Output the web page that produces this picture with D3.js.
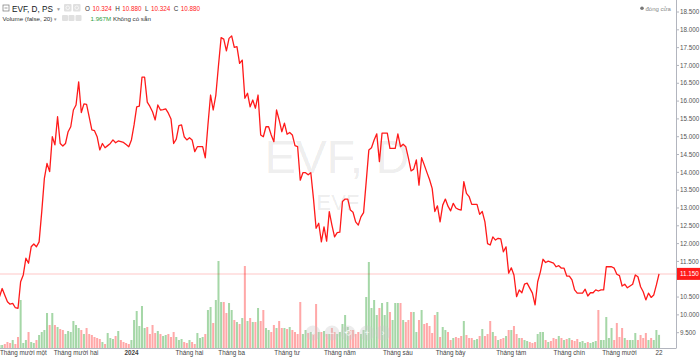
<!DOCTYPE html>
<html><head><meta charset="utf-8">
<script src="https://cdn.jsdelivr.net/npm/d3@7/dist/d3.min.js"></script>
<style>
html,body{margin:0;padding:0;background:#fff;}
svg{display:block;font-family:"Liberation Sans",Arial,sans-serif;}
</style></head><body>
<svg id="chart" width="700" height="358"></svg>
<script>
// ---- data (daily closes, EVF, thousands VND) ----
const closes = [
10.51,10.74,10.55,10.37,10.30,10.32,10.20,10.18,10.93,11.12,
11.59,11.45,11.91,11.99,11.91,12.05,12.89,13.83,14.25,14.02,
15.00,14.77,15.56,14.81,14.74,14.81,15.14,15.28,15.75,15.89,
16.54,15.68,15.92,15.91,15.55,15.19,15.17,15.00,14.63,14.81,
14.69,14.75,14.81,14.91,14.83,14.88,14.86,14.84,14.78,14.72,
14.91,15.33,15.84,15.86,16.67,16.67,15.97,15.85,15.70,15.47,
15.89,15.75,15.76,15.78,15.66,15.50,14.81,14.93,15.31,15.33,
15.00,14.91,14.97,14.91,14.58,14.72,14.72,14.72,14.41,15.33,
16.17,15.75,16.17,17.00,17.78,17.74,17.41,17.76,17.83,17.51,
17.53,17.06,17.15,16.08,16.22,15.84,16.03,15.80,16.17,15.05,
15.00,15.28,15.28,15.05,14.86,15.75,15.47,15.14,15.38,15.07,
15.12,15.05,14.75,14.72,13.78,13.99,13.99,13.93,13.99,13.27,
12.43,12.57,12.05,12.47,12.07,12.90,12.52,12.19,12.31,12.32,
13.18,13.25,13.25,12.94,12.88,12.61,12.52,12.75,12.87,13.74,
14.63,14.69,14.91,15.08,14.30,15.10,15.10,15.10,14.67,14.67,
14.67,15.08,14.72,14.79,14.72,14.40,14.04,14.09,14.35,13.64,
14.41,14.21,14.00,13.80,13.55,12.90,13.06,12.61,13.08,13.25,
13.05,12.92,13.13,13.00,12.96,12.94,13.74,13.41,13.32,13.10,
13.10,13.10,12.82,12.90,12.61,12.00,11.96,12.19,12.10,12.15,
12.13,11.77,11.91,11.17,11.32,11.12,10.51,10.70,10.62,10.86,
10.89,10.75,10.61,10.28,10.93,11.20,11.56,11.47,11.51,11.48,
11.45,11.35,11.38,11.31,11.31,11.09,11.09,10.98,10.70,10.61,
10.61,10.61,10.72,10.53,10.62,10.62,10.70,10.67,10.70,10.70,
11.35,11.35,11.35,11.31,11.14,11.10,10.81,10.86,10.76,10.81,
10.86,11.12,11.07,10.79,10.65,10.42,10.61,10.49,10.56,10.84,
11.15];

// daily volume, millions of shares
const volumes = [
0.45,0.45,0.6,0.9,0.75,1.2,0.6,
1.65,7.2,0.75,1.2,2.4,0.9,0.75,1.2,1.95,2.4,2.7,
5.25,3.45,5.25,3.45,3.15,2.85,2.7,2.1,2.55,2.4,
4.05,3.45,3.0,2.7,2.1,3.0,2.1,1.95,1.65,1.5,
1.35,0.9,0.6,2.25,1.5,1.35,1.8,2.55,1.2,0.9,
0.75,0.6,1.2,4.2,5.55,3.3,6.3,3.0,3.15,2.1,
3.45,2.25,2.55,2.1,1.8,1.95,2.1,1.65,2.4,1.65,
1.2,1.35,0.9,0.75,1.2,0.9,0.6,2.25,1.5,1.65,
2.1,5.7,6.15,3.75,7.2,13.05,6.9,6.9,5.25,6.75,
5.7,4.2,3.9,3.6,4.5,12.3,4.05,4.5,3.9,3.9,
6.0,4.05,5.7,3.0,2.7,2.4,3.45,3.0,4.05,3.0,
3.0,2.85,3.15,2.7,2.4,2.1,6.9,2.1,2.7,2.25,
2.4,2.1,6.6,2.4,2.4,2.55,2.1,2.1,3.0,2.4,
2.1,2.4,3.6,4.95,3.15,2.7,2.7,2.1,2.4,2.1,
2.7,7.65,12.9,6.0,7.2,4.95,6.0,6.75,4.95,6.9,
5.4,4.2,6.75,6.75,6.75,4.2,3.9,4.2,5.4,5.4,
2.4,4.2,5.7,3.6,3.75,3.3,2.25,4.95,5.4,1.65,
3.15,2.7,2.4,1.2,1.5,1.65,1.5,1.8,4.05,1.95,
1.5,1.5,1.2,1.35,1.8,2.85,1.8,2.1,4.05,2.4,
1.8,1.2,1.35,1.5,1.8,2.7,2.7,3.3,2.1,1.5,
1.5,1.2,1.05,0.9,0.75,0.9,2.1,2.4,2.4,1.2,
0.9,1.05,1.5,1.35,1.8,1.5,1.2,1.35,1.5,1.2,
1.05,1.35,0.9,1.05,0.75,0.9,0.75,0.9,1.05,5.7,
1.2,1.2,4.65,1.5,3.0,1.2,3.75,1.65,3.0,1.5,
1.2,1.2,1.2,2.25,1.2,1.95,1.5,2.25,1.2,1.5,
1.2,2.7,1.967];

const tickLabels = ["Tháng mười một","Tháng mười hai","2024","Tháng hai","Tháng ba","Tháng tư","Tháng năm","Tháng sáu","Tháng bảy","Tháng tám","Tháng chín","Tháng mười","22"];
const tickIndex  = [7,29,50,72,88,109,129,151,171,194,216,235,250];
const boldTicks  = ["2024"];
const priceTicks = [9.5,10,10.5,11,11.5,12,12.5,13,13.5,14,14.5,15,15.5,16,16.5,17,17.5,18,18.5];
const lastPrice  = 11.15;
const legendOHLC = [["O","10.324"],["H","10.880"],["L","10.324"],["C","10.880"]];
const legendTitle = "EVF, D, PS";
const volTitle = "Volume (false, 20)";
const volValue = "1.967M";
const volNA = "Không có sẵn";
const watermark = "EVF, D";
const watermarkSub = "EVF";
const closeLegend = "đóng cửa";

// ---- layout ----
const plotW = 676, plotH = 348;
const svg = d3.select("#chart");
const fmt = d3.format(".3f");

const x = d3.scaleLinear().domain([0.18, 256.43]).range([0, plotW]);
const y = d3.scaleLinear().domain([9.07, 18.837]).range([plotH, 0]);
const v = d3.scaleLinear().domain([0, d3.max(volumes)]).range([plotH, plotH * 0.75]);

svg.append("defs").append("clipPath").attr("id","clip")
  .append("rect").attr("x",0).attr("y",0).attr("width",plotW).attr("height",plotH);

// watermark
svg.append("text").attr("x",337).attr("y",173).attr("text-anchor","middle")
  .attr("font-size",46.5).attr("fill","#000").attr("fill-opacity",0.085).text(watermark);
svg.append("text").attr("x",338).attr("y",210).attr("text-anchor","middle")
  .attr("font-size",22).attr("fill","#000").attr("fill-opacity",0.085).text(watermarkSub);

const plot = svg.append("g").attr("clip-path","url(#clip)");

// volume bars
plot.append("g").selectAll("rect").data(volumes).join("rect")
  .attr("x",(d,i)=>x(i)-1)
  .attr("width",2)
  .attr("y",d=>v(d))
  .attr("height",d=>plotH - v(d))
  .attr("fill",(d,i)=> (i===0 || closes[i] >= closes[i-1]) ? "rgba(76,175,80,0.5)" : "rgba(255,82,82,0.5)");

// last price line
plot.append("line").attr("x1",0).attr("x2",plotW)
  .attr("y1",y(lastPrice)).attr("y2",y(lastPrice))
  .attr("stroke","#ff0000").attr("stroke-opacity",0.15).attr("stroke-width",1.5);

// close line
plot.append("path").datum(closes)
  .attr("d", d3.line().x((d,i)=>x(i)).y(d=>y(d)))
  .attr("fill","none").attr("stroke","#ff1a1a").attr("stroke-width",1.3)
  .attr("stroke-linejoin","round");

// navigation buttons (faint)
const navSyms = ["‹","−","⟲","+","›"];
const navX = [313,332,348,367,383];
const nav = svg.append("g");
navSyms.forEach((s,k)=>{
  nav.append("circle").attr("cx",navX[k]).attr("cy",333).attr("r",7.5)
    .attr("fill","#c8c8c8").attr("fill-opacity",0.35);
  nav.append("text").attr("x",navX[k]).attr("y",336).attr("text-anchor","middle")
    .attr("font-size",9).attr("fill","#fff").attr("fill-opacity",0.9).text(s);
});

// right axis
const axisColor = "#b2b5be";
svg.append("line").attr("x1",plotW+0.5).attr("x2",plotW+0.5).attr("y1",0).attr("y2",plotH)
  .attr("stroke",axisColor).attr("stroke-width",1);
const yLast = y(lastPrice);
const yt = svg.append("g");
priceTicks.forEach(t=>{
  const yy = y(t);
  yt.append("line").attr("x1",plotW).attr("x2",plotW+3).attr("y1",yy).attr("y2",yy)
    .attr("stroke",axisColor);
  if (Math.abs(yy - yLast) > 9) {
    yt.append("text").attr("x",plotW+4).attr("y",yy+2.2).attr("font-size",6.3)
      .attr("fill","#555").text(fmt(t));
  }
});
// last price label
svg.append("rect").attr("x",plotW+1).attr("y",yLast-6).attr("width",700-plotW-1).attr("height",12)
  .attr("fill","#ff1a1a");
svg.append("text").attr("x",plotW+4).attr("y",yLast+2.3).attr("font-size",6.3)
  .attr("fill","#fff").text(fmt(lastPrice));

// bottom axis
svg.append("line").attr("x1",0).attr("x2",plotW+0.5).attr("y1",plotH+0.5).attr("y2",plotH+0.5)
  .attr("stroke",axisColor);
const xt = svg.append("g");
tickLabels.forEach((lab,k)=>{
  const xx = x(tickIndex[k]);
  const t = xt.append("text").attr("x",xx).attr("y",354.5).attr("text-anchor","middle")
    .attr("font-size",6.3).attr("fill","#444")
    .attr("font-weight", boldTicks.includes(lab) ? "bold" : "normal").text(lab);
  const w = t.node().getComputedTextLength();
  if (xx - w/2 < 0) t.attr("text-anchor","start").attr("x",0);
});

// legend line 1
const lg = svg.append("g");
lg.append("rect").attr("x",3).attr("y",5).attr("width",6).attr("height",6)
  .attr("fill","none").attr("stroke","#777").attr("stroke-width",0.7);
lg.append("line").attr("x1",4.5).attr("x2",7.5).attr("y1",8).attr("y2",8).attr("stroke","#777").attr("stroke-width",0.7);
lg.append("text").attr("x",12).attr("y",11.5).attr("font-size",8.2).attr("fill","#131722").text(legendTitle);
lg.append("text").attr("x",56).attr("y",10.5).attr("font-size",5).attr("fill","#999").text("▼");
[64,73].forEach(bx=>{
  lg.append("rect").attr("x",bx).attr("y",4).attr("width",7.5).attr("height",7.5).attr("rx",1)
    .attr("fill","#e0e0e0");
  lg.append("circle").attr("cx",bx+3.75).attr("cy",7.75).attr("r",1.8).attr("fill","none")
    .attr("stroke","#fff").attr("stroke-width",0.7);
});
let lx = 85;
legendOHLC.forEach(([k,val])=>{
  const a = lg.append("text").attr("x",lx).attr("y",11).attr("font-size",6.3).attr("fill","#333").text(k);
  lx += a.node().getComputedTextLength() + 2.5;
  const b = lg.append("text").attr("x",lx).attr("y",11).attr("font-size",6.3).attr("fill","#ff1a1a").text(val);
  lx += b.node().getComputedTextLength() + 3.5;
});
// legend line 2
lg.append("text").attr("x",2.5).attr("y",21).attr("font-size",6.2).attr("fill","#333").text(volTitle);
lg.append("text").attr("x",53).attr("y",20.5).attr("font-size",4.5).attr("fill","#999").text("▼");
[62,68.5,75.5].forEach((bx,k)=>{
  lg.append("rect").attr("x",bx).attr("y",15).attr("width",6).attr("height",6).attr("rx",1)
    .attr("fill","#e0e0e0");
});
lg.append("text").attr("x",90.5).attr("y",21).attr("font-size",6.2).attr("fill","#2e9e3e").text(volValue);
lg.append("text").attr("x",113).attr("y",21).attr("font-size",6.2).attr("fill","#333").text(volNA);

// top-right close legend
svg.append("circle").attr("cx",642).attr("cy",8.3).attr("r",1.8).attr("fill","#777");
svg.append("text").attr("x",645.5).attr("y",10.5).attr("font-size",6).attr("fill","#888").text(closeLegend);
</script>
</body></html>
